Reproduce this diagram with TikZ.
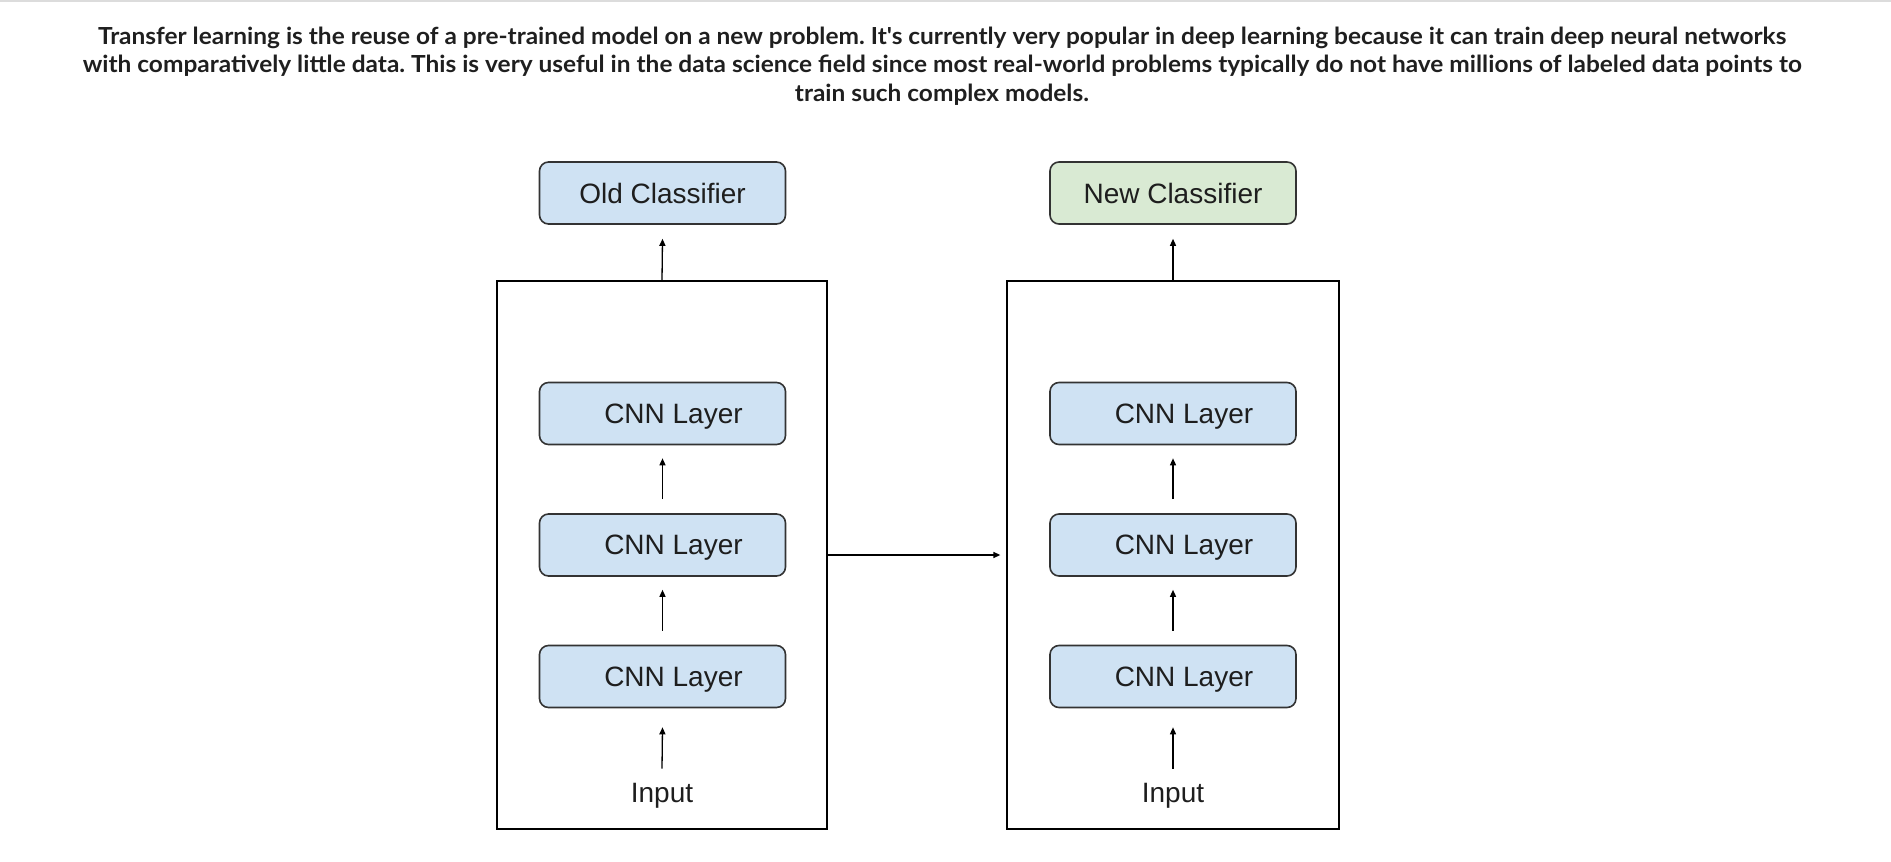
\documentclass[tikz,border=0pt]{standalone}
\usepackage{fontspec}
\setmainfont{Liberation Sans}
\newfontfamily\titlefont[FakeStretch=1.04]{Lato}
\usetikzlibrary{arrows.meta,calc}
\definecolor{bluefill}{HTML}{CFE2F3}
\definecolor{greenfill}{HTML}{D9EAD3}
\definecolor{boxline}{HTML}{333333}
\definecolor{labelcol}{HTML}{1E1E1E}
\definecolor{titlecol}{HTML}{1F1F1F}
\definecolor{topline}{HTML}{DCDCDC}
\frenchspacing
\begin{document}
\begin{tikzpicture}[x=1pt,y=-1pt,
  layerbox/.style={draw=boxline, line width=1.6pt, rounded corners=9pt, fill=bluefill,
    minimum width=246pt, minimum height=62pt, inner sep=0pt, text depth=0pt,
    font=\fontsize{28}{32}\selectfont, text=labelcol},
  outerbox/.style={draw=black, line width=1.3pt, minimum width=330pt, minimum height=548pt, inner sep=0pt},
  plain/.style={inner sep=0pt, font=\fontsize{28}{32}\selectfont, text=labelcol},
  arr/.style={-{Triangle[length=7pt,width=6pt]}, line width=1.3pt}]
\useasboundingbox (0,0) rectangle (1891,862);
\fill[topline] (0,0) rectangle (1891,2);
\node[font=\titlefont\bfseries\fontsize{23.5}{28.5}\selectfont, text=titlecol, align=center, inner sep=0pt] (title) at (942,66)
  {Transfer learning is the reuse of a pre-trained model on a new problem. It's currently very popular in deep learning because it can train deep neural networks\\
   with comparatively little data. This is very useful in the data science field since most real-world problems typically do not have millions of labeled data points to\\
   train such complex models.};
% left
\node[outerbox] (L) at (662,555) {};
\node[layerbox] (oc) at (662.5,193) {Old Classifier};
\node[layerbox] (l1) at (662.5,413.5) {\hspace*{22pt}CNN Layer};
\node[layerbox] (l2) at (662.5,545) {\hspace*{22pt}CNN Layer};
\node[layerbox] (l3) at (662.5,676.5) {\hspace*{22pt}CNN Layer};
\node[plain, anchor=base] (inL) at (662,802) {Input};
% right
\node[outerbox, minimum width=332pt] (R) at (1173,555) {};
\node[layerbox, fill=greenfill] (nc) at (1173,193) {New Classifier};
\node[layerbox] (r1) at (1173,413.5) {\hspace*{22pt}CNN Layer};
\node[layerbox] (r2) at (1173,545) {\hspace*{22pt}CNN Layer};
\node[layerbox] (r3) at (1173,676.5) {\hspace*{22pt}CNN Layer};
\node[plain, anchor=base] (inR) at (1173,802) {Input};
% arrows
\draw[arr] (L.north) -- ($(oc.south)+(0,14)$);
\draw[arr] ($(l2.north)+(0,-14)$) -- ($(l1.south)+(0,13)$);
\draw[arr] ($(l3.north)+(0,-14)$) -- ($(l2.south)+(0,13)$);
\draw[arr] ($(inL.north)+(0,-14)$) -- ($(l3.south)+(0,19)$);
\draw[arr] (R.north) -- ($(nc.south)+(0,14)$);
\draw[arr] ($(r2.north)+(0,-14)$) -- ($(r1.south)+(0,13)$);
\draw[arr] ($(r3.north)+(0,-14)$) -- ($(r2.south)+(0,13)$);
\draw[arr] ($(inR.north)+(0,-14)$) -- ($(r3.south)+(0,19)$);
\draw[arr] (L.east) -- ($(R.west)+(-6,0)$);
\end{tikzpicture}
\end{document}
